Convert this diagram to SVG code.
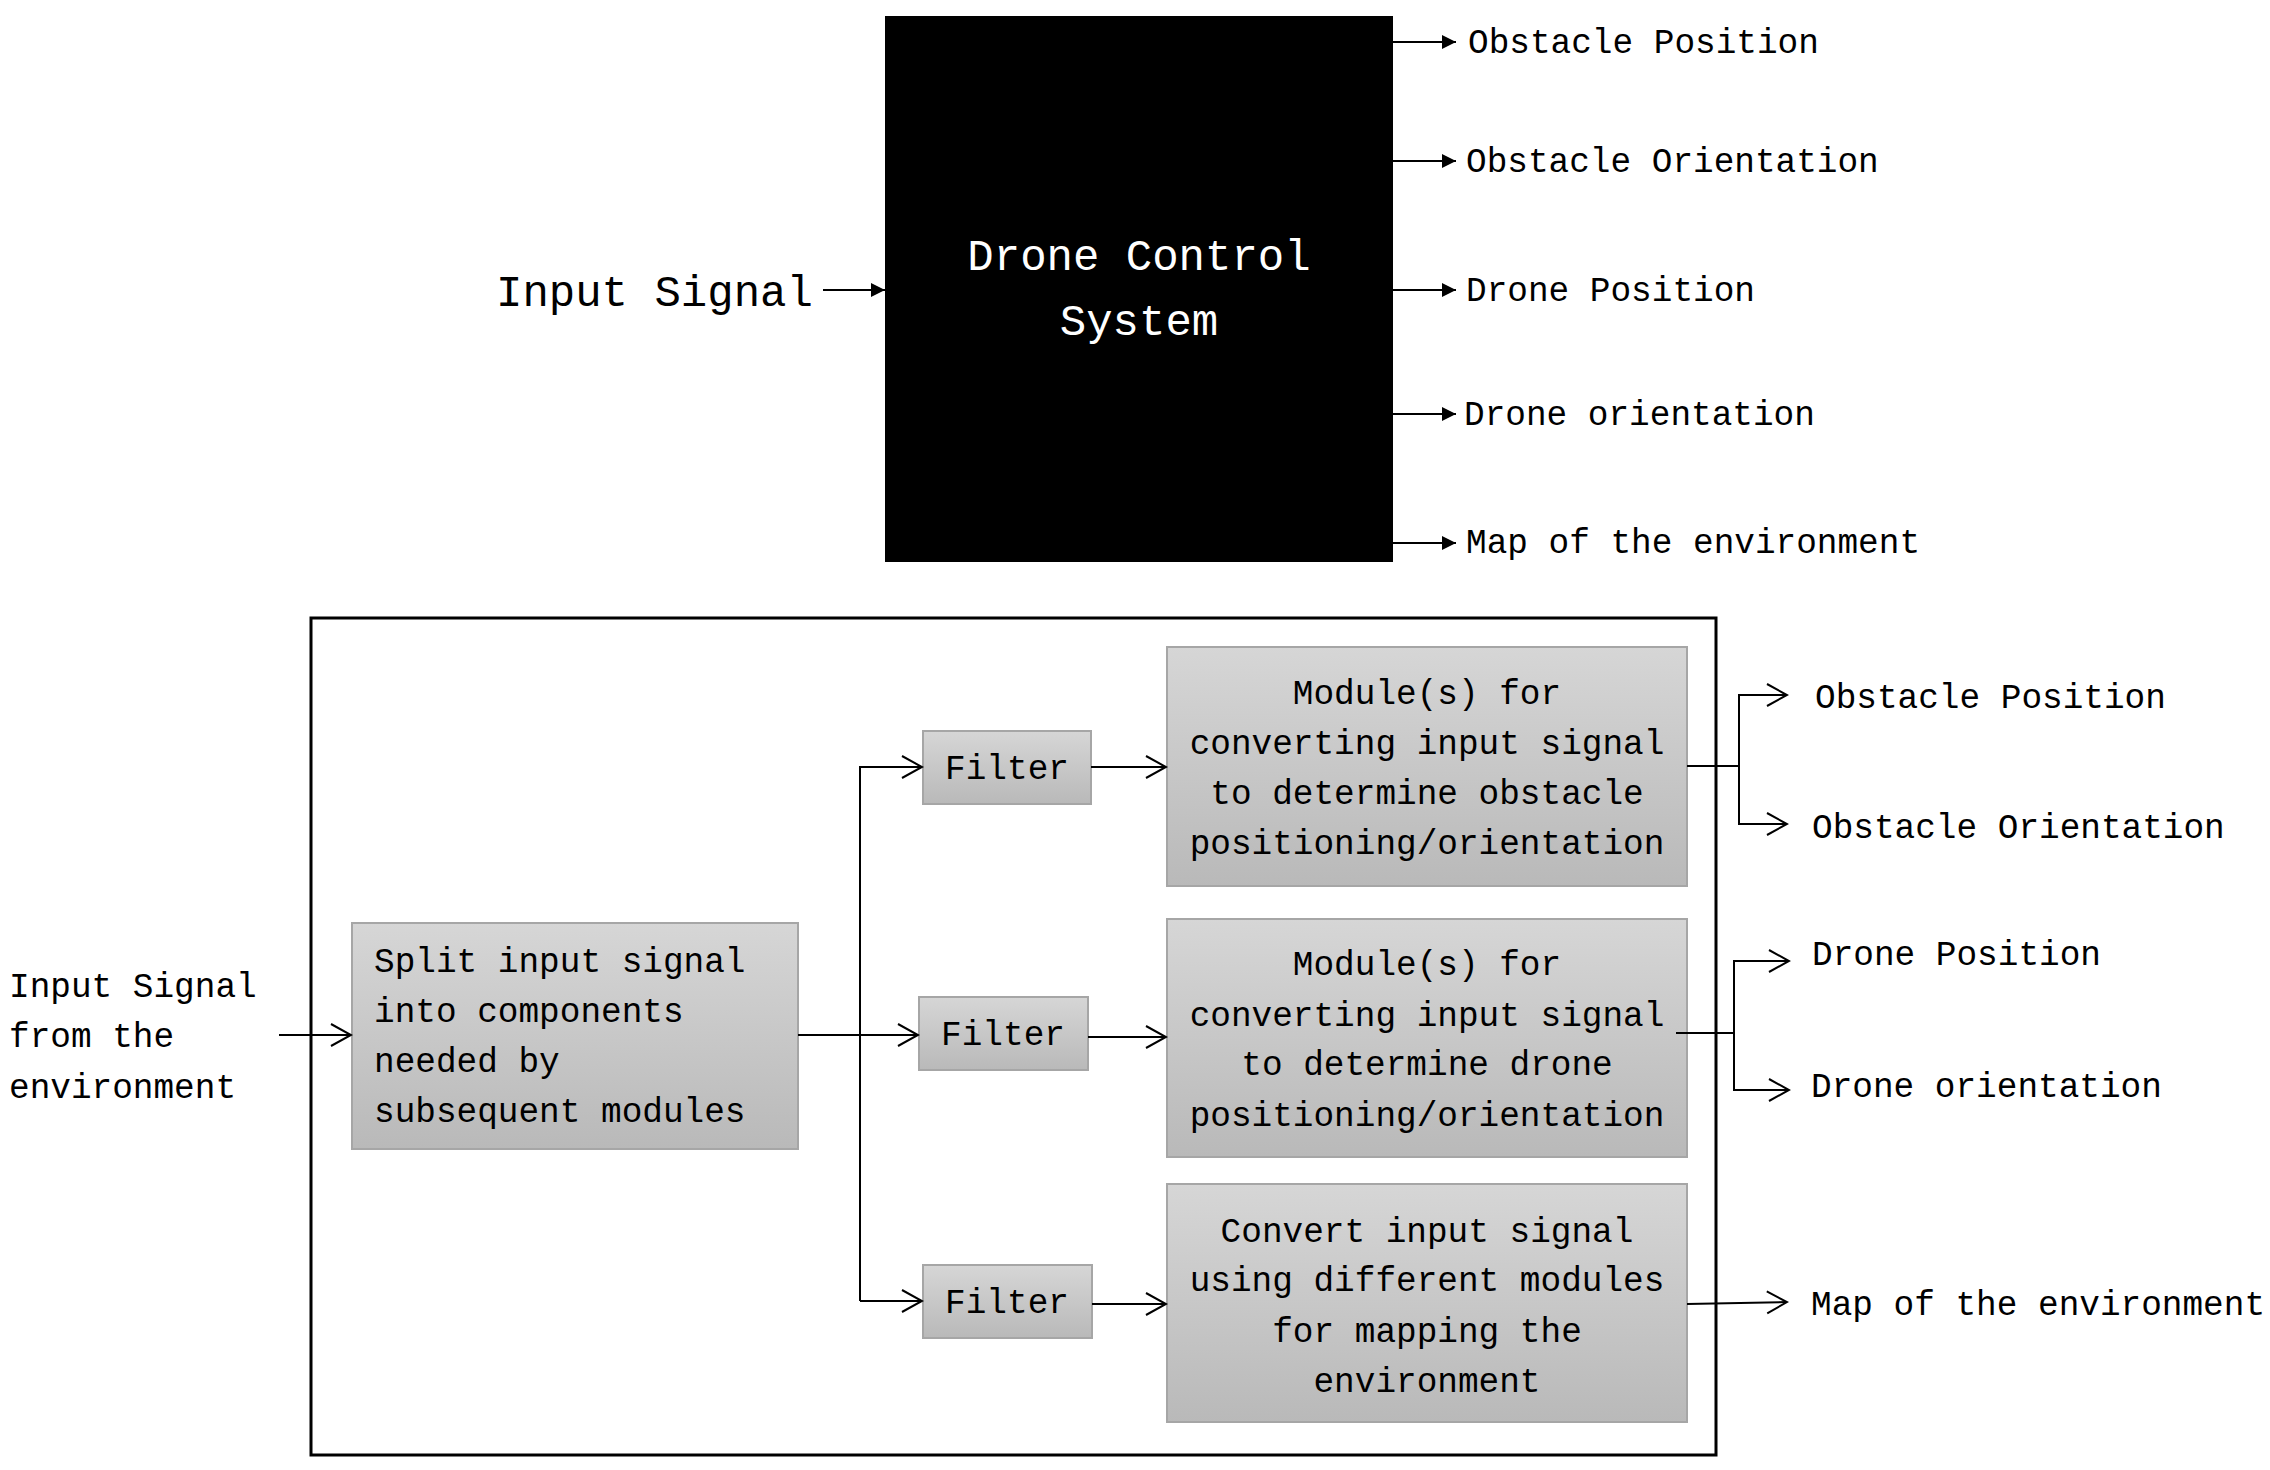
<svg xmlns="http://www.w3.org/2000/svg" width="2270" height="1470" viewBox="0 0 2270 1470">
<style>
  text { font-family: "Liberation Mono", "DejaVu Sans Mono", monospace; fill: #000; }
  .t44 { font-size: 44px; }
  .t34 { font-size: 34.4px; }
  .title { fill: #fff; font-size: 44px; }
  .c { text-anchor: middle; }
  .box { fill: url(#grad); stroke: #a6a6a6; stroke-width: 2; }
  .ln { fill: none; stroke: #000; stroke-width: 2; }
  .arrTop { fill: none; stroke: #000; stroke-width: 2; marker-end: url(#tri); }
  .arr { fill: none; stroke: #000; stroke-width: 2; marker-end: url(#open); }
</style>
<defs>
  <linearGradient id="grad" x1="0" y1="0" x2="0" y2="1">
    <stop offset="0" stop-color="#d6d6d6"/>
    <stop offset="1" stop-color="#b9b9b9"/>
  </linearGradient>
  <marker id="tri" markerUnits="userSpaceOnUse" viewBox="0 0 14 14" refX="14" refY="7" markerWidth="14" markerHeight="14" orient="auto">
    <path d="M0,0 L14,7 L0,14 z" fill="#000"/>
  </marker>
  <marker id="open" markerUnits="userSpaceOnUse" viewBox="-22 -13 24 26" refX="0" refY="0" markerWidth="24" markerHeight="26" orient="auto">
    <path d="M-20,-11 L0,0 L-20,11" fill="none" stroke="#000" stroke-width="2"/>
  </marker>
</defs>
<rect width="2270" height="1470" fill="#fff"/>

<!-- Top black-box diagram -->
<g id="dcs">
  <rect x="885" y="16" width="508" height="546" fill="#000"/>
  <text class="title c" x="1139" y="270">Drone Control</text>
  <text class="title c" x="1139" y="335">System</text>
</g>
<g id="top-input"><text class="t44" x="496" y="306">Input Signal</text></g>
<g id="top-out1"><text class="t34" x="1468" y="53">Obstacle Position</text></g>
<g id="top-out2"><text class="t34" x="1466" y="172">Obstacle Orientation</text></g>
<g id="top-out3"><text class="t34" x="1466" y="301">Drone Position</text></g>
<g id="top-out4"><text class="t34" x="1464" y="425">Drone orientation</text></g>
<g id="top-out5"><text class="t34" x="1466" y="553">Map of the environment</text></g>

<!-- Bottom detailed diagram -->
<g id="frame"><rect x="311" y="618" width="1405" height="837" fill="none" stroke="#000" stroke-width="3"/></g>

<g id="in-label">
  <text class="t34" x="9" y="997">Input Signal</text>
  <text class="t34" x="9" y="1047">from the</text>
  <text class="t34" x="9" y="1098">environment</text>
</g>

<g id="split">
  <rect class="box" x="352" y="923" width="446" height="226"/>
  <text class="t34" x="374" y="972">Split input signal</text>
  <text class="t34" x="374" y="1022">into components</text>
  <text class="t34" x="374" y="1072">needed by</text>
  <text class="t34" x="374" y="1122">subsequent modules</text>
</g>

<g id="filter1">
  <rect class="box" x="923" y="731" width="168" height="73"/>
  <text class="t34 c" x="1007" y="779">Filter</text>
</g>
<g id="filter2">
  <rect class="box" x="919" y="997" width="169" height="73"/>
  <text class="t34 c" x="1003" y="1045">Filter</text>
</g>
<g id="filter3">
  <rect class="box" x="923" y="1265" width="169" height="73"/>
  <text class="t34 c" x="1007" y="1313">Filter</text>
</g>

<g id="module1">
  <rect class="box" x="1167" y="647" width="520" height="239"/>
  <text class="t34 c" x="1427" y="704">Module(s) for</text>
  <text class="t34 c" x="1427" y="754">converting input signal</text>
  <text class="t34 c" x="1427" y="804">to determine obstacle</text>
  <text class="t34 c" x="1427" y="854">positioning/orientation</text>
</g>
<g id="module2">
  <rect class="box" x="1167" y="919" width="520" height="238"/>
  <text class="t34 c" x="1427" y="975">Module(s) for</text>
  <text class="t34 c" x="1427" y="1026">converting input signal</text>
  <text class="t34 c" x="1427" y="1075">to determine drone</text>
  <text class="t34 c" x="1427" y="1126">positioning/orientation</text>
</g>
<g id="module3">
  <rect class="box" x="1167" y="1184" width="520" height="238"/>
  <text class="t34 c" x="1427" y="1242">Convert input signal</text>
  <text class="t34 c" x="1427" y="1291">using different modules</text>
  <text class="t34 c" x="1427" y="1342">for mapping the</text>
  <text class="t34 c" x="1427" y="1392">environment</text>
</g>

<g id="out-labels">
  <text class="t34" x="1815" y="708">Obstacle Position</text>
  <text class="t34" x="1812" y="838">Obstacle Orientation</text>
  <text class="t34" x="1812" y="965">Drone Position</text>
  <text class="t34" x="1811" y="1097">Drone orientation</text>
  <text class="t34" x="1811" y="1315">Map of the environment</text>
</g>

<g id="connectors">
  <!-- top diagram -->
  <line class="arrTop" x1="823" y1="290" x2="885" y2="290"/>
  <line class="arrTop" x1="1393" y1="42" x2="1456" y2="42"/>
  <line class="arrTop" x1="1393" y1="161" x2="1456" y2="161"/>
  <line class="arrTop" x1="1393" y1="290" x2="1456" y2="290"/>
  <line class="arrTop" x1="1393" y1="414" x2="1456" y2="414"/>
  <line class="arrTop" x1="1393" y1="543" x2="1456" y2="543"/>

  <!-- bottom diagram -->
  <line class="arr" x1="279" y1="1035" x2="351" y2="1035"/>
  <line class="ln" x1="798" y1="1035" x2="860" y2="1035" stroke-width="2.5"/>
  <line class="ln" x1="860" y1="766" x2="860" y2="1301"/>
  <line class="arr" x1="860" y1="767" x2="922" y2="767"/>
  <line class="arr" x1="860" y1="1035" x2="918" y2="1035"/>
  <line class="arr" x1="860" y1="1301" x2="922" y2="1301"/>

  <line class="arr" x1="1091" y1="767" x2="1166" y2="767"/>
  <line class="arr" x1="1088" y1="1037" x2="1166" y2="1037"/>
  <line class="arr" x1="1092" y1="1304" x2="1166" y2="1304"/>

  <polyline class="ln" points="1687,766 1739,766"/>
  <path class="arr" d="M1739,766 V695 H1787"/>
  <path class="arr" d="M1739,766 V824 H1787"/>

  <polyline class="ln" points="1676,1033 1734,1033"/>
  <path class="arr" d="M1734,1033 V961 H1789"/>
  <path class="arr" d="M1734,1033 V1090 H1789"/>

  <line class="arr" x1="1687" y1="1304" x2="1787" y2="1302"/>
</g>
</svg>
